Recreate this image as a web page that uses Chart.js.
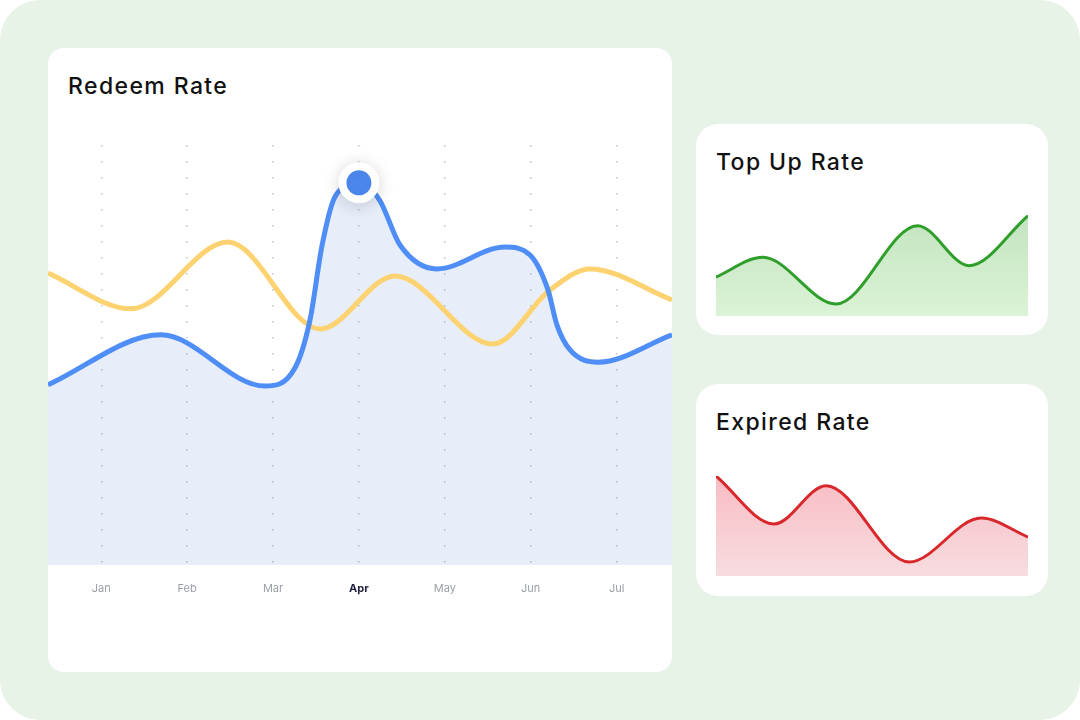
<!DOCTYPE html>
<html>
<head>
<meta charset="utf-8">
<script src="https://cdn.jsdelivr.net/npm/chart.js@4.4.1/dist/chart.umd.min.js"></script>
<style>
  html, body { margin: 0; padding: 0; background: #ffffff; }
  body { width: 1080px; height: 720px; position: relative; overflow: hidden; font-family: Inter, "Noto Sans", sans-serif; }
  .bg { position: absolute; left: 0; top: 0; width: 1080px; height: 720px; background: #e7f3e6; border-radius: 40px; }
  .card { position: absolute; background: #ffffff; }
  .title { position: absolute; font-size: 23px; font-weight: 500; color: #111111; letter-spacing: 1.4px; white-space: nowrap; }
  .box { position: absolute; }
</style>
</head>
<body>
<div class="bg"></div>
<div class="card" style="left:48px;top:48px;width:624px;height:624px;border-radius:16px;overflow:hidden;"></div>
<div class="card" style="left:696px;top:124px;width:352px;height:211px;border-radius:22px;"></div>
<div class="card" style="left:696px;top:384px;width:352px;height:212px;border-radius:22px;"></div>

<div class="title" style="left:68px;top:72px;">Redeem Rate</div>
<div class="title" style="left:716px;top:148px;">Top Up Rate</div>
<div class="title" style="left:716px;top:408px;">Expired Rate</div>

<div class="box" style="left:48px;top:140px;width:624px;height:480px;"><canvas id="redeem"></canvas></div>
<div class="box" style="left:712px;top:211px;width:320px;height:109px;"><canvas id="topup"></canvas></div>
<div class="box" style="left:712px;top:472px;width:320px;height:108px;"><canvas id="expired"></canvas></div>

<script>
// month ticks of the big chart
var months = ['Jan', 'Feb', 'Mar', 'Apr', 'May', 'Jun', 'Jul'];
var activeMonth = 3;

// Redeem Rate, blue line (x in months from Jan, y in %)
var redeemX = [-0.62, 0.695, 1.906, 2.255, 2.43, 2.57, 2.72, 3.0, 3.24, 3.478, 3.909, 4.7, 4.992, 5.201, 5.306, 5.458, 5.784, 6.645];
var redeemY = [42.9, 54.8, 42.6, 46.9, 58.3, 76.0, 87.6, 91.0, 86.9, 76.2, 70.5, 75.7, 73.8, 65.5, 57.1, 51.2, 48.3, 54.8];

// second series, yellow line
var compareX = [-0.62, 0.347, 1.475, 2.547, 3.42, 4.561, 5.225, 5.69, 6.645];
var compareY = [69.5, 61.0, 76.9, 56.2, 68.8, 52.6, 65.5, 70.5, 63.1];

// highlighted point
var highlightX = [3];
var highlightY = [91.0];

// Top Up Rate (x in % of width)
var topupX = [0, 15, 38.5, 64.6, 81.1, 100];
var topupY = [38.6, 58.1, 11.9, 89.4, 49.8, 99.3];

// Expired Rate
var expiredX = [0, 18.6, 35.3, 61.9, 85, 100];
var expiredY = [100, 52, 90.3, 14, 58, 39];

function pairs(xs, ys) {
  return xs.map(function (x, i) { return { x: x, y: ys[i] }; });
}

function vGradient(top, bottom) {
  return function (ctx) {
    var area = ctx.chart.chartArea;
    if (!area) return top;
    var g = ctx.chart.ctx.createLinearGradient(0, area.top, 0, area.bottom);
    g.addColorStop(0, top);
    g.addColorStop(1, bottom);
    return g;
  };
}

var shadowPlugin = {
  id: 'dotShadow',
  beforeDatasetDraw: function (chart, args) {
    if (args.index !== 0) return;
    var c = chart.ctx;
    c.save();
    c.shadowColor = 'rgba(0, 0, 0, 0.14)';
    c.shadowBlur = 18;
    c.shadowOffsetY = 2;
  },
  afterDatasetDraw: function (chart, args) {
    if (args.index !== 0) return;
    chart.ctx.restore();
  }
};

new Chart(document.getElementById('redeem'), {
  type: 'line',
  data: {
    datasets: [
      {
        data: pairs(highlightX, highlightY),
        showLine: false,
        pointRadius: 16.5,
        pointHoverRadius: 16.5,
        pointBackgroundColor: '#4f8ef7',
        pointBorderColor: '#ffffff',
        pointBorderWidth: 8,
        clip: false
      },
      {
        data: pairs(redeemX, redeemY),
        borderColor: '#4f8ef7',
        borderWidth: 5,
        backgroundColor: 'rgba(55, 113, 213, 0.12)',
        fill: 'start',
        cubicInterpolationMode: 'monotone',
        pointRadius: 0
      },
      {
        data: pairs(compareX, compareY),
        borderColor: '#fdd270',
        borderWidth: 5,
        fill: false,
        cubicInterpolationMode: 'monotone',
        pointRadius: 0
      }
    ]
  },
  options: {
    responsive: true,
    maintainAspectRatio: false,
    animation: false,
    layout: { autoPadding: false, padding: { top: 5, bottom: 15, left: 0, right: 0 } },
    plugins: {
      legend: { display: false },
      tooltip: { enabled: false },
      filler: { drawTime: 'beforeDatasetsDraw' }
    },
    scales: {
      x: {
        type: 'linear',
        min: -0.62,
        max: 6.645,
        afterBuildTicks: function (scale) {
          scale.ticks = months.map(function (m, i) { return { value: i }; });
        },
        afterFit: function (scale) { scale.height = 40; },
        grid: { color: '#bfc3c9', lineWidth: 1.5, drawTicks: false },
        border: { display: false, dash: [1.5, 14.5] },
        ticks: {
          padding: 17,
          callback: function (v) { return months[v]; },
          color: function (ctx) { return ctx.index === activeMonth ? '#1b1f3b' : '#9aa0aa'; },
          font: function (ctx) {
            return { family: 'Inter', size: 11, weight: ctx.index === activeMonth ? '700' : '400' };
          }
        }
      },
      y: { display: false, min: 0, max: 100 }
    }
  },
  plugins: [shadowPlugin]
});

function smallChart(id, xs, ys, line, top, bottom) {
  new Chart(document.getElementById(id), {
    type: 'line',
    data: {
      datasets: [{
        data: pairs(xs, ys),
        borderColor: line,
        borderWidth: 3,
        backgroundColor: vGradient(top, bottom),
        fill: 'start',
        cubicInterpolationMode: 'monotone',
        pointRadius: 0
      }]
    },
    options: {
      responsive: true,
      maintainAspectRatio: false,
      animation: false,
      layout: { autoPadding: false, padding: 4 },
      plugins: { legend: { display: false }, tooltip: { enabled: false } },
      scales: {
        x: { type: 'linear', display: false, min: 0, max: 100 },
        y: { display: false, min: 0, max: 100 }
      }
    }
  });
}

smallChart('topup', topupX, topupY, '#2f9e2a', '#c3e4c0', '#dbf3d6');
smallChart('expired', expiredX, expiredY, '#d8282c', '#f8bcc3', '#f7dde0');
</script>
</body>
</html>
